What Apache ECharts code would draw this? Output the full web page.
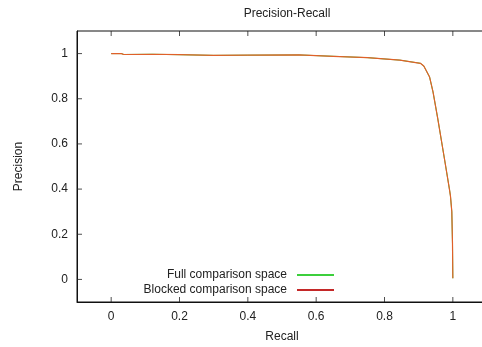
<!DOCTYPE html>
<html>
<head>
<meta charset="utf-8">
<script src="https://cdn.jsdelivr.net/npm/echarts@6/dist/echarts.min.js"></script>
<style>
html,body{margin:0;padding:0;background:#fff;}
#chart{width:482px;height:347px;}
</style>
</head>
<body>
<div id="chart"></div>
<script>
const fullRecall = [0, 0.03, 0.037, 0.12, 0.2, 0.3, 0.4, 0.55, 0.65, 0.75, 0.845, 0.905, 0.915, 0.922, 0.932, 0.942, 0.956, 0.977, 0.99, 0.993, 0.997, 0.999, 1.0];
const fullPrecision = [1.0, 1.0, 0.996, 0.997, 0.995, 0.992, 0.993, 0.994, 0.988, 0.982, 0.971, 0.957, 0.945, 0.925, 0.896, 0.83, 0.711, 0.52, 0.4, 0.37, 0.3, 0.16, 0.005];
const blockedRecall = [0, 0.03, 0.037, 0.12, 0.2, 0.3, 0.4, 0.55, 0.65, 0.75, 0.845, 0.905, 0.915, 0.922, 0.932, 0.942, 0.956, 0.977, 0.99, 0.993, 0.997, 0.999, 1.0];
const blockedPrecision = [1.0, 1.0, 0.996, 0.997, 0.995, 0.992, 0.993, 0.994, 0.988, 0.982, 0.971, 0.957, 0.945, 0.925, 0.896, 0.83, 0.711, 0.52, 0.4, 0.37, 0.3, 0.16, 0.005];
const xTicks = [0, 0.2, 0.4, 0.6, 0.8, 1];
const yTicks = [0, 0.2, 0.4, 0.6, 0.8, 1];
const seriesNames = ['Full comparison space', 'Blocked comparison space'];
const titleText = 'Precision-Recall';
const xName = 'Recall';
const yName = 'Precision';

const zip = (a, b) => a.map((v, i) => [v, b[i]]);
const font = 'Liberation Sans, Arial, sans-serif';
const labelColor = '#222';
const tickColor = '#222';
const greenLegend = '#3ccf3c';
const redLegend = '#c42828';
const X_MIN = -0.1, X_MAX = 1.1, Y_MIN = -0.1, Y_MAX = 1.1;

const tickLabel = v => {
  if (Math.abs(v * 10 - Math.round(v * 10)) > 0.01) return '';
  const r = Math.round(v * 10);
  if (r % 2 !== 0) return '';
  return String(r / 10);
};

function axisParts() {
  return {
    axisLine: {show: true, onZero: false, lineStyle: {color: '#111', width: 1}},
    axisTick: {show: false},
    splitLine: {show: false}
  };
}
function legendFor(name, color, top) {
  return {
    top: top, right: 148, align: 'right', orient: 'vertical', icon: 'rect',
    itemWidth: 37, itemHeight: 2, padding: 0, itemGap: 0,
    textStyle: {fontFamily: font, fontSize: 12, color: labelColor, padding: [0, 5, 0, 0]},
    selectedMode: false,
    data: [{name: name, itemStyle: {color: color}}]
  };
}
function tickSeries(id, data, size, offset) {
  return {
    id: id, type: 'scatter', data: data, symbol: 'rect', symbolSize: size, symbolOffset: offset,
    itemStyle: {color: tickColor}, silent: true, clip: false, z: 5, legendHoverLink: false,
    emphasis: {disabled: true}, tooltip: {show: false}
  };
}

const chart = echarts.init(document.getElementById('chart'), null, {renderer: 'canvas'});
chart.setOption({
  animation: false,
  backgroundColor: '#fff',
  title: {
    text: titleText, left: 282, top: 3, textAlign: 'center',
    textStyle: {fontFamily: font, fontSize: 12, fontWeight: 'normal', color: labelColor}
  },
  grid: {left: 77, top: 31, width: 410, height: 271, outerBoundsMode: 'none', containLabel: false,
         show: true, borderColor: '#111', borderWidth: 1, backgroundColor: 'transparent'},
  legend: [
    legendFor(seriesNames[0], greenLegend, 269),
    legendFor(seriesNames[1], redLegend, 284)
  ],
  xAxis: [
    Object.assign(axisParts(), {
      type: 'value', position: 'bottom', min: X_MIN, max: X_MAX, splitNumber: 6,
      name: xName, nameLocation: 'middle', nameGap: 29,
      nameTextStyle: {fontFamily: font, fontSize: 12, color: labelColor},
      axisLabel: {showMinLabel: false, showMaxLabel: false, margin: 9, fontFamily: font, fontSize: 12, color: labelColor, formatter: tickLabel}
    })
  ],
  yAxis: [
    Object.assign(axisParts(), {
      type: 'value', min: Y_MIN, max: Y_MAX, splitNumber: 6,
      name: yName, nameLocation: 'middle', nameGap: 52, nameRotate: 90,
      nameTextStyle: {fontFamily: font, fontSize: 12, color: labelColor},
      axisLabel: {showMinLabel: false, showMaxLabel: false, margin: 9, fontFamily: font, fontSize: 12, color: labelColor, formatter: tickLabel}
    })
  ],
  series: [
    {
      name: seriesNames[0], type: 'line', data: zip(fullRecall, fullPrecision),
      showSymbol: false, symbol: 'none', color: greenLegend,
      lineStyle: {width: 1, color: greenLegend}
    },
    {
      name: seriesNames[1], type: 'line', data: zip(blockedRecall, blockedPrecision),
      showSymbol: false, symbol: 'none', color: redLegend,
      lineStyle: {width: 1.2, color: '#e0602a'}
    },
    tickSeries('ticksBottom', xTicks.map(t => [t, Y_MIN]), [1, 5], [0, -2.5]),
    tickSeries('ticksTop', xTicks.map(t => [t, Y_MAX]), [1, 5], [0, 2.5]),
    tickSeries('ticksLeft', yTicks.map(t => [X_MIN, t]), [5, 1], [2.5, 0])
  ]
});
</script>
</body>
</html>
